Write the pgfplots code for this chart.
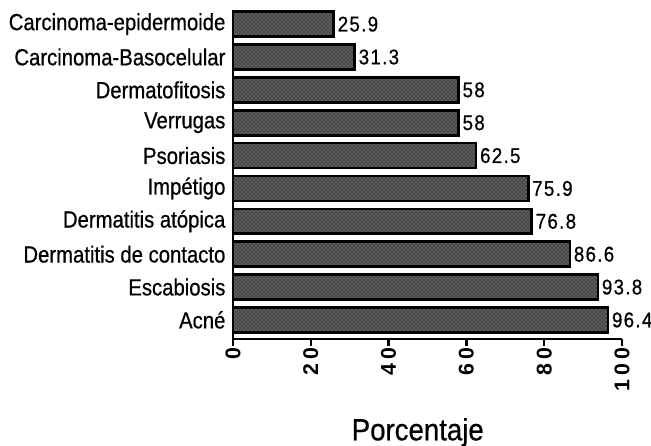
\documentclass[border=0pt]{standalone}
\usepackage{fontspec}
\setmainfont{Liberation Sans}
\newfontfamily\narrow[FakeStretch=0.87, FakeBold=0.6]{Liberation Sans}
\newfontfamily\narrowx[FakeStretch=0.9, FakeBold=0.6]{Liberation Sans}
\newfontfamily\narrowv[FakeStretch=0.88, FakeBold=0.6, LetterSpace=6]{Liberation Sans}
\newfontfamily\narrowb[LetterSpace=18]{Liberation Sans Bold}
\usepackage{pgfplots}
\pgfplotsset{compat=1.18}
\usetikzlibrary{patterns}
\pgfplotstableread{
y val
0 96.4
1 93.8
2 86.6
3 76.8
4 75.9
5 62.5
6 58
7 58
8 31.3
9 25.9
}\datatable
\begin{document}
\begin{tikzpicture}
\begin{axis}[
  at={(174.75pt,80.25pt)}, anchor=south west,
  scale only axis, width=291.75pt, height=246.75pt,
  xbar, bar width=0.76,
  xmin=0, xmax=100, ymin=-0.58, ymax=9.43,
  axis lines*=left,
  axis line style={line width=1.8pt},
  x axis line style={line width=2.2pt},
  xtick={0,20,40,60,80,100},
  xticklabels={0,20,40,60,80,100},
  tick align=outside,
  major tick length=5pt,
  xtick style={line width=1.8pt, black},
  ytick={0,...,9},
  yticklabels={Acné,Escabiosis,Dermatitis de contacto,Dermatitis atópica,Impétigo,Psoriasis,Verrugas,Dermatofitosis,Carcinoma-Basocelular,Carcinoma-epidermoide},
  ytick style={draw=none},
  yticklabel style={font=\narrow\fontsize{17.5}{20}\selectfont, inner sep=0.5pt},
  xticklabel style={rotate=90, anchor=east, font=\narrowb\fontsize{16}{18}\selectfont, inner sep=1.5pt},
  xlabel={Porcentaje},
  xlabel style={at={(axis description cs:0.475,0)}, anchor=base, yshift=-76pt, font=\narrowx\fontsize{23}{26}\selectfont},
  nodes near coords,
  nodes near coords style={font=\narrowv\fontsize{16}{18}\selectfont, anchor=west, inner sep=2pt, black},
  point meta=explicit symbolic,
  clip=false,
]
\addplot[draw=black, line width=2pt, fill=black!72,
  postaction={pattern=crosshatch dots, pattern color=black!35}]
  table[x=val, y=y, meta=val] {\datatable};
\end{axis}
\pgfresetboundingbox
\path (0,0) rectangle (488.25pt,334.5pt);
\end{tikzpicture}
\end{document}
